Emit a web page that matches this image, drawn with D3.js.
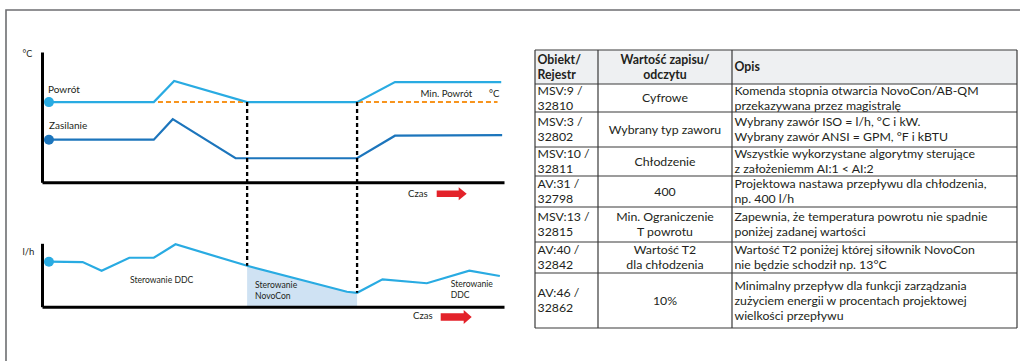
<!DOCTYPE html>
<html>
<head>
<meta charset="utf-8">
<script src="https://cdn.jsdelivr.net/npm/d3@7"></script>
<style>
  html, body { margin: 0; padding: 0; background: #fff; }
  svg { display: block; font-family: Lato, "Noto Sans", sans-serif; }
</style>
</head>
<body>
<svg id="chart" width="1020" height="361"></svg>
<script>
// ---- data -------------------------------------------------------------
// time runs 0..100 (arbitrary units) along both charts
const returnTime  = [1.5, 24.2, 28.6, 44.4, 68.2, 76.4, 99.4];
const returnTemp  = [16, 16, 20.2, 16, 16, 20, 20];          // °C
const supplyTime  = [1.5, 24.2, 28.3, 41.9, 68.2, 76.4, 99.6];
const supplyTemp  = [8.5, 8.5, 12.6, 4.8, 4.8, 9.3, 9.4];    // °C
const minReturnTemp = 16;                                    // °C
const minReturnSpan = [25.1, 98.6];

const flowTime = [1.5, 8.8, 12.9, 18.9, 24.2, 28.9, 44.4, 66.0, 68.2, 73.7, 83.3, 92.5, 99.1];
const flowRate = [355, 352, 284, 386, 386, 492, 323, 118, 110, 216, 185, 284, 242];   // l/h

const switchTimes = [44.4, 68.2];          // DDC -> NovoCon -> DDC

const tableHeader = [["Obiekt/", "Rejestr"], ["Wartość zapisu/", "odczytu"], ["Opis"]];
const tableObjects = [
  ["MSV:9 /", "32810"], ["MSV:3 /", "32802"], ["MSV:10 /", "32811"], ["AV:31 /", "32798"],
  ["MSV:13 /", "32815"], ["AV:40 /", "32842"], ["AV:46 /", "32862"]
];
const tableValues = [
  ["Cyfrowe"], ["Wybrany typ zaworu"], ["Chłodzenie"], ["400"],
  ["Min. Ograniczenie", "T powrotu"], ["Wartość T2", "dla chłodzenia"], ["10%"]
];
const tableDescriptions = [
  ["Komenda stopnia otwarcia NovoCon/AB-QM", "przekazywana przez magistralę"],
  ["Wybrany zawór ISO = l/h, °C i kW.", "Wybrany zawór ANSI = GPM, °F i kBTU"],
  ["Wszystkie wykorzystane algorytmy sterujące", "z założeniemm AI:1 < AI:2"],
  ["Projektowa nastawa przepływu dla chłodzenia,", "np. 400 l/h"],
  ["Zapewnia, że temperatura powrotu nie spadnie", "poniżej zadanej wartości"],
  ["Wartość T2 poniżej której siłownik NovoCon", "nie będzie schodził np. 13°C"],
  ["Minimalny przepływ dla funkcji zarządzania", "zużyciem energii w procentach projektowej", "wielkości przepływu"]
];

// ---- layout -----------------------------------------------------------
const C = {
  light: "#29abe2", dark: "#1c75bc", orange: "#f7941d", fill: "#cfe2f3",
  red: "#e3222a", text: "#231f20", axis: "#000"
};
const svg = d3.select("#chart");

// frame around the figure
svg.append("path")
  .attr("d", "M6,361 V10 H1020")
  .attr("fill", "none").attr("stroke", "#6d6e71").attr("stroke-width", 1.6);

const x = d3.scaleLinear().domain([0, 100]).range([42, 504]);
const yTemp = d3.scaleLinear().domain([0, 26]).range([182.3, 52]);
const yFlow = d3.scaleLinear().domain([0, 500]).range([306.7, 243.3]);

function bareAxis(g, axis) {
  g.call(axis.ticks(0).tickSize(0).tickSizeOuter(0).tickFormat(""));
  g.select(".domain").attr("stroke", C.axis).attr("stroke-width", 3);
}

// ---- temperature chart -------------------------------------------------
const tempG = svg.append("g");
tempG.append("g").attr("transform", `translate(0,${yTemp(0)})`).call(g => bareAxis(g, d3.axisBottom(x)));
tempG.append("g").attr("transform", `translate(${x(0)},0)`).call(g => bareAxis(g, d3.axisLeft(yTemp)));

const line = d3.line();
tempG.append("path")
  .attr("d", line(minReturnSpan.map(t => [x(t), yTemp(minReturnTemp)])))
  .attr("stroke", C.orange).attr("stroke-width", 2).attr("stroke-dasharray", "5,3").attr("fill", "none");

tempG.append("path")
  .attr("d", line(returnTime.map((t, i) => [x(t), yTemp(returnTemp[i])])))
  .attr("stroke", C.light).attr("stroke-width", 2.2).attr("fill", "none");
tempG.append("path")
  .attr("d", line(supplyTime.map((t, i) => [x(t), yTemp(supplyTemp[i])])))
  .attr("stroke", C.dark).attr("stroke-width", 2.2).attr("fill", "none");

tempG.append("circle").attr("cx", x(returnTime[0])).attr("cy", yTemp(returnTemp[0])).attr("r", 5).attr("fill", C.light);
tempG.append("circle").attr("cx", x(supplyTime[0])).attr("cy", yTemp(supplyTemp[0])).attr("r", 5).attr("fill", C.dark);

const txt = (g, s, px, py, size, anchor) => g.append("text")
  .attr("x", px).attr("y", py).attr("font-size", size).attr("fill", C.text)
  .attr("text-anchor", anchor || "start").text(s);

txt(tempG, "°C", 22.5, 56.5, 9);
txt(tempG, "Powrót", 48, 92.7, 10);
txt(tempG, "Zasilanie", 49, 129, 10);
txt(tempG, "Min. Powrót", 420.5, 96.5, 9.6);
txt(tempG, "°C", 489, 96.5, 9.6);
txt(tempG, "Czas", 408, 196.7, 9.6);

// ---- flow chart --------------------------------------------------------
const flowG = svg.append("g");
const flowPts = flowTime.map((t, i) => ({ t, v: flowRate[i] }));
const novo = flowPts.filter(d => d.t >= switchTimes[0] && d.t <= switchTimes[1]);
flowG.append("path")
  .attr("d", d3.area().x(d => x(d.t)).y0(yFlow(0)).y1(d => yFlow(d.v))(novo))
  .attr("fill", C.fill);

flowG.append("g").attr("transform", `translate(0,${yFlow(0)})`).call(g => bareAxis(g, d3.axisBottom(x)));
flowG.append("g").attr("transform", `translate(${x(0)},0)`).call(g => bareAxis(g, d3.axisLeft(yFlow)));

flowG.append("path")
  .attr("d", d3.line().x(d => x(d.t)).y(d => yFlow(d.v))(flowPts))
  .attr("stroke", C.light).attr("stroke-width", 2.2).attr("fill", "none");
flowG.append("circle").attr("cx", x(flowPts[0].t)).attr("cy", yFlow(flowPts[0].v)).attr("r", 5).attr("fill", C.light);

txt(flowG, "l/h", 22.5, 255, 9.6);
txt(flowG, "Sterowanie DDC", 130, 282.7, 8.6);
txt(flowG, "Sterowanie", 255, 288.3, 8.6);
txt(flowG, "NovoCon", 255, 299.3, 8.6);
txt(flowG, "Sterowanie", 450.7, 287.3, 8.6);
txt(flowG, "DDC", 450.7, 298.3, 8.6);
txt(flowG, "Czas", 413, 319, 9.6);

// switch-over markers between the two charts
const flowAt = t => flowRate[flowTime.indexOf(t)];
svg.append("g").selectAll("line").data(switchTimes).join("line")
  .attr("x1", d => x(d)).attr("x2", d => x(d))
  .attr("y1", yTemp(minReturnTemp)).attr("y2", d => yFlow(flowAt(d)))
  .attr("stroke", "#000").attr("stroke-width", 2.3).attr("stroke-dasharray", "4,3");

// time arrows
function arrow(x0, yc, len, h, headLen, headH) {
  svg.append("path")
    .attr("d", `M${x0},${yc - h / 2} H${x0 + len - headLen} V${yc - headH / 2} L${x0 + len},${yc} L${x0 + len - headLen},${yc + headH / 2} V${yc + h / 2} H${x0} Z`)
    .attr("fill", C.red);
}
arrow(436.7, 193.8, 30, 6.4, 8, 13);
arrow(440.7, 317, 31, 7.4, 8, 14);

// ---- table ------------------------------------------------------------
const tbl = svg.append("g").attr("font-size", 12.3).attr("fill", C.text)
  .attr("font-family", "Lato, 'Noto Sans', sans-serif");
const colX = [535, 598, 732, 1017];
const rowY = [50, 84, 112, 147, 176, 207, 242, 273, 328];
const lineH = 15;

tbl.append("rect").attr("x", colX[0]).attr("y", rowY[0])
  .attr("width", colX[3] - colX[0]).attr("height", rowY[1] - rowY[0]).attr("fill", "#eef0f2");

const rows = [tableHeader].concat(tableObjects.map((o, i) => [o, tableValues[i], tableDescriptions[i]]));
rows.forEach((cells, r) => {
  const y0 = rowY[r], y1 = rowY[r + 1];
  cells.forEach((lines, c) => {
    const anchor = c === 1 ? "middle" : "start";
    const tx = c === 1 ? (colX[1] + colX[2]) / 2 : colX[c] + 2.5;
    const mid = (y0 + y1) / 2;
    const first = mid - (lines.length - 1) * lineH / 2;
    const t = tbl.append("text").attr("text-anchor", anchor)
      .attr("font-weight", r === 0 ? 700 : 400);
    lines.forEach((s, k) => {
      t.append("tspan").attr("x", tx).attr("y", first + k * lineH).attr("dy", "0.35em").text(s);
    });
  });
});

// grid lines
const gridColor = "#3a3a3a";
tbl.append("g").selectAll("line").data(rowY).join("line")
  .attr("x1", colX[0]).attr("x2", colX[3]).attr("y1", d => d).attr("y2", d => d)
  .attr("stroke", gridColor).attr("stroke-width", 1.2);
tbl.append("g").selectAll("line").data(colX).join("line")
  .attr("y1", rowY[0]).attr("y2", rowY[rowY.length - 1]).attr("x1", d => d).attr("x2", d => d)
  .attr("stroke", gridColor).attr("stroke-width", 1.2);
</script>
</body>
</html>
